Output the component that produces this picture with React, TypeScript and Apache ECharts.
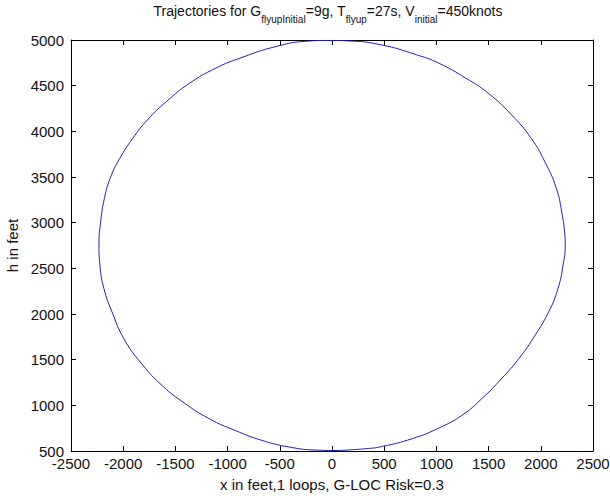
import React, { useEffect, useRef } from "react";
import * as echarts from "echarts";

// Axis ranges / ticks
const xMin = -2500;
const xMax = 2500;
const xStep = 500;
const hMin = 500;
const hMax = 5000;
const hStep = 500;

// Trajectory points (x in feet, h in feet), in flight order
const trajX = [
  0, 324, 482, 768, 1022, 1244, 1435, 1625, 1790, 1925, 2075, 2165, 2213, 2234,
  2229, 2200, 2149, 2038, 1908, 1720, 1496, 1282, 1022, 810, 470, 160, -30, -250,
  -535, -880, -1112, -1364, -1586, -1768, -1908, -2032, -2125, -2180, -2216, -2232,
  -2223, -2185, -2107, -1994, -1837, -1647, -1428, -1176, -930, -670, -407, -152, 70,
];
const trajH = [
  502, 525, 550, 635, 751, 890, 1073, 1293, 1512, 1731, 2023, 2280, 2535, 2754,
  2880, 3120, 3376, 3668, 3924, 4180, 4418, 4582, 4747, 4838, 4947, 4990, 4995, 4986,
  4929, 4802, 4692, 4527, 4326, 4125, 3924, 3705, 3486, 3266, 3010, 2754,
  2535, 2280, 2023, 1731, 1475, 1238, 1036, 854, 726, 616, 543, 510, 505,
];

const titleParts = [
  { t: "Trajectories for G", sub: false },
  { t: "flyupInitial", sub: true },
  { t: "=9g, T", sub: false },
  { t: "flyup", sub: true },
  { t: "=27s, V", sub: false },
  { t: "initial", sub: true },
  { t: "=450knots", sub: false },
];
const xLabel = "x in feet,1 loops, G-LOC Risk=0.3";
const yLabel = "h in feet";

const FONT = '"Liberation Sans", Arial, sans-serif';
const TXT = "#111";

export default function App() {
  const ref = useRef<HTMLDivElement>(null);
  useEffect(() => {
    document.body.style.margin = "0";
    if (!ref.current) return;
    const chart = echarts.init(ref.current, undefined, { renderer: "svg" });
    const data = trajX.map((x, i) => [x, trajH[i]]);
    const titleText = titleParts
      .map((p) => `{${p.sub ? "s" : "m"}|${p.t}}`)
      .join("");
    const axisCommon = {
      axisLine: { show: true, onZero: false, lineStyle: { color: "#000", width: 1 } },
      axisTick: { show: true, inside: true, length: 5, lineStyle: { color: "#000" } },
      splitLine: { show: false },
    };
    const plain = (v: number) => String(v);
    chart.setOption({
      animation: false,
      backgroundColor: "#ffffff",
      grid: { left: 71, right: 17, top: 40, bottom: 49, outerBoundsMode: "none" },
      graphic: [
        {
          type: "text",
          x: 328,
          y: 4,
          style: {
            text: titleText,
            align: "center",
            verticalAlign: "top",
            rich: {
              m: { fontSize: 14, lineHeight: 18, fontFamily: FONT, fill: TXT, verticalAlign: "top" },
              s: {
                fontSize: 10,
                lineHeight: 12,
                padding: [10, 0, 0, 0],
                fontFamily: FONT,
                fill: TXT,
                verticalAlign: "top",
              },
            },
          },
        },
      ],
      xAxis: [
        {
          type: "value",
          position: "bottom",
          min: xMin,
          max: xMax,
          interval: xStep,
          ...axisCommon,
          axisLabel: { show: true, margin: 5, fontSize: 15, fontFamily: FONT, color: TXT, formatter: plain, showMinLabel: true, showMaxLabel: true },
          name: xLabel,
          nameLocation: "middle",
          nameGap: 26,
          nameTextStyle: { fontSize: 15, fontFamily: FONT, color: TXT },
        },
        {
          type: "value",
          position: "top",
          min: xMin,
          max: xMax,
          interval: xStep,
          ...axisCommon,
          axisLabel: { show: false },
        },
      ],
      yAxis: [
        {
          type: "value",
          position: "left",
          min: hMin,
          max: hMax,
          interval: hStep,
          ...axisCommon,
          axisLabel: { show: true, margin: 7, fontSize: 15, fontFamily: FONT, color: TXT, formatter: plain, showMinLabel: true, showMaxLabel: true },
          name: yLabel,
          nameLocation: "middle",
          nameGap: 46,
          nameTextStyle: { fontSize: 15, fontFamily: FONT, color: TXT },
        },
        {
          type: "value",
          position: "right",
          min: hMin,
          max: hMax,
          interval: hStep,
          ...axisCommon,
          axisLabel: { show: false },
        },
      ],
      series: [
        {
          type: "line",
          xAxisIndex: 0,
          yAxisIndex: 0,
          data,
          smooth: 0.5,
          showSymbol: false,
          symbol: "none",
          lineStyle: { color: "#2020b8", width: 1 },
        },
      ],
    });
    return () => chart.dispose();
  }, []);
  return <div ref={ref} style={{ width: 610, height: 500 }} />;
}
